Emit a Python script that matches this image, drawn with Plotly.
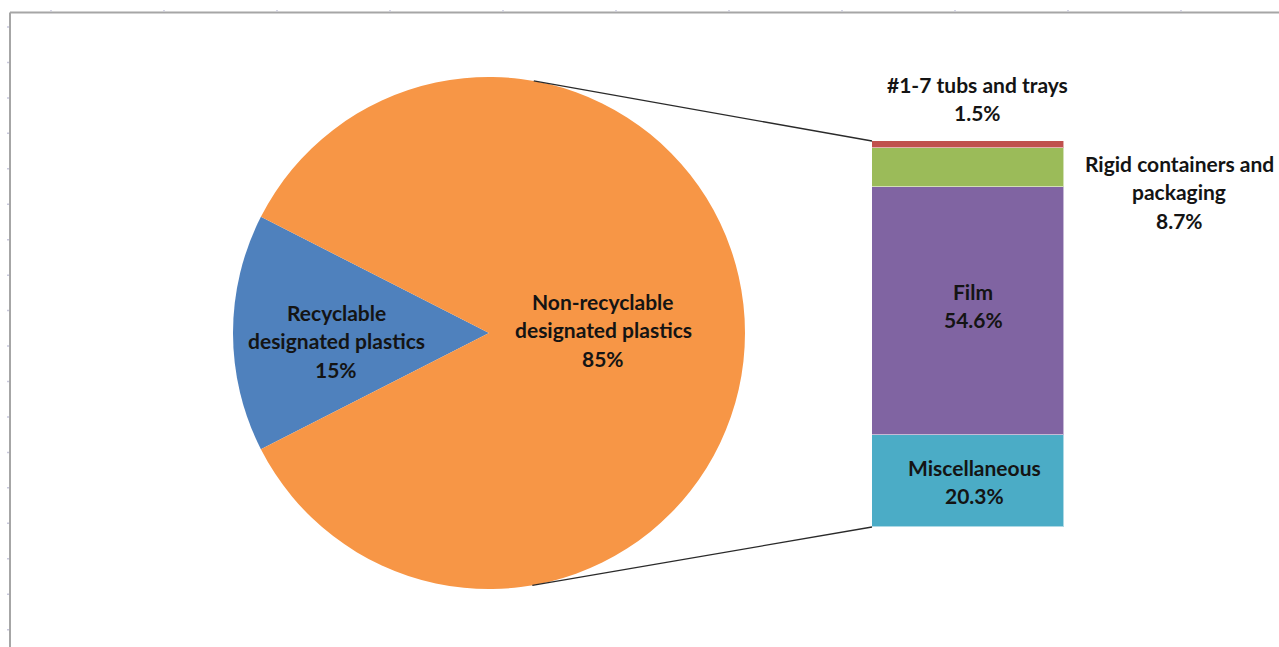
import math
import plotly.graph_objects as go

# ---- data -------------------------------------------------------------
main_label_lines = [["Recyclable", "designated plastics"],
                    ["Non-recyclable", "designated plastics"]]
main_values = [15, 85]
main_colors = ["#4F81BD", "#F79646"]

# breakdown of the non-recyclable share, stacked bottom -> top
sub_label_lines = [["Miscellaneous"],
                   ["Film"],
                   ["Rigid containers and", "packaging"],
                   ["#1-7 tubs and trays"]]
sub_values = [20.3, 54.6, 8.7, 1.5]
sub_colors = ["#4BACC6", "#8064A2", "#9BBB59", "#C0504D"]

# ---- canvas geometry (pixels) ----------------------------------------
W, H = 1279, 647
PIE_CX, PIE_CY, PIE_R = 489, 333, 256
BAR_X0, BAR_X1, BAR_TOP, BAR_BOT = 872, 1064, 141, 527

FONT = "Lato"
TXT = "#141414"
FS = 21
LINE_GAP = 28.5


def px(x, y):
    """pixel (y down) -> paper coordinates"""
    return x / W, 1 - y / H


fig = go.Figure()

# ---- pie --------------------------------------------------------------
fig.add_trace(go.Pie(
    values=main_values,
    labels=[" ".join(l) for l in main_label_lines],
    marker=dict(colors=main_colors, line=dict(width=0)),
    sort=False,
    direction="clockwise",
    rotation=270 - 360 * main_values[0] / 100 / 2,
    textinfo="none",
    hoverinfo="skip",
    showlegend=False,
    domain=dict(x=[(PIE_CX - PIE_R) / W, (PIE_CX + PIE_R) / W],
                y=[1 - (PIE_CY + PIE_R) / H, 1 - (PIE_CY - PIE_R) / H]),
))

# ---- stacked bar ------------------------------------------------------
for lines, v, c in zip(sub_label_lines, sub_values, sub_colors):
    fig.add_trace(go.Bar(
        x=[0], y=[v], width=[1],
        name=" ".join(lines),
        marker=dict(color=c, line=dict(color="rgba(255,255,255,0.55)", width=1)),
        hoverinfo="skip",
        showlegend=False,
        xaxis="x2", yaxis="y2",
    ))

annotations = []


def add_label(lines, cx, cy_first):
    for i, t in enumerate(lines):
        x, y = px(cx, cy_first + i * LINE_GAP)
        annotations.append(dict(
            x=x, y=y, xref="paper", yref="paper", text=t, showarrow=False,
            xanchor="center", yanchor="middle",
            font=dict(family=FONT, size=FS, color=TXT, weight="bold")))


# pie labels
add_label(main_label_lines[0] + [f"{main_values[0]}%"], 336, 312)
add_label(main_label_lines[1] + [f"{main_values[1]}%"], 603, 301)

# bar labels
add_label(sub_label_lines[0] + [f"{sub_values[0]}%"], 974, 467)
add_label(sub_label_lines[1] + [f"{sub_values[1]}%"], 973, 291)
add_label(sub_label_lines[2] + [f"{sub_values[2]}%"], 1179, 163)
add_label(sub_label_lines[3] + [f"{sub_values[3]}%"], 977, 84)

shapes = []

# connector lines: tangents from the bar corners to the pie circle
for (bx, by), sign in (((BAR_X0, BAR_TOP), -1), ((BAR_X0, BAR_BOT), 1)):
    dx, dy = bx - PIE_CX, by - PIE_CY
    d = math.hypot(dx, dy)
    ang = math.atan2(dy, dx) + sign * math.acos(PIE_R / d)
    tx, ty = PIE_CX + PIE_R * math.cos(ang), PIE_CY + PIE_R * math.sin(ang)
    x0, y0 = px(tx, ty)
    x1, y1 = px(bx, by)
    shapes.append(dict(type="line", xref="paper", yref="paper",
                       x0=x0, y0=y0, x1=x1, y1=y1,
                       line=dict(color="#2a2a2a", width=1.3)))

# chart-area frame (top and left edges) with faint grid marks
FX, FY = 10, 12.5
for a, b in ((px(FX, FY), px(W, FY)), (px(FX, FY), px(FX, H))):
    shapes.append(dict(type="line", xref="paper", yref="paper",
                       x0=a[0], y0=a[1], x1=b[0], y1=b[1],
                       line=dict(color="#a6a6a6", width=2)))
yy = 27.0
while yy < H:
    a, b = px(7, yy), px(9, yy)
    shapes.append(dict(type="line", xref="paper", yref="paper",
                       x0=a[0], y0=a[1], x1=b[0], y1=b[1],
                       line=dict(color="#c9c9dc", width=1.5)))
    yy += 35.45
xx = 51.0
while xx < W:
    a, b = px(xx, 10), px(xx, 11.5)
    shapes.append(dict(type="line", xref="paper", yref="paper",
                       x0=a[0], y0=a[1], x1=b[0], y1=b[1],
                       line=dict(color="#c9c9dc", width=1.5)))
    xx += 113.0

fig.update_layout(
    width=W, height=H,
    margin=dict(l=0, r=0, t=0, b=0),
    paper_bgcolor="white", plot_bgcolor="white",
    barmode="stack", bargap=0,
    xaxis2=dict(domain=[BAR_X0 / W, BAR_X1 / W], range=[-0.5, 0.5],
                visible=False, fixedrange=True, anchor="y2"),
    yaxis2=dict(domain=[1 - BAR_BOT / H, 1 - BAR_TOP / H],
                range=[0, sum(sub_values)],
                visible=False, fixedrange=True, anchor="x2"),
    annotations=annotations,
    shapes=shapes,
)

fig.write_html("out.html")
